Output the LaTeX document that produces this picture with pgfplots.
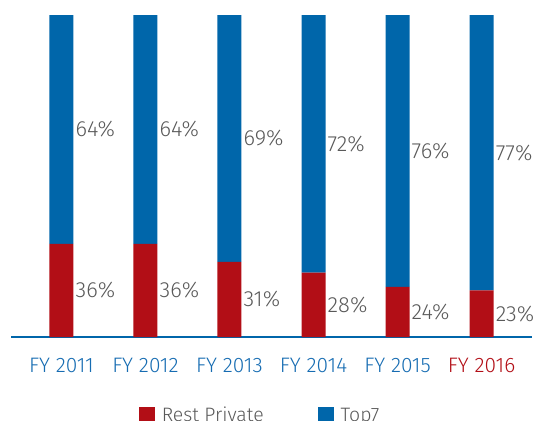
\documentclass[border=0pt]{standalone}
\usepackage{fontspec}
\setmainfont{Fira Sans}[UprightFont=* Light]
\usepackage{pgfplots}
\pgfplotsset{compat=1.18}
\definecolor{barblue}{RGB}{0,102,170}
\definecolor{barred}{RGB}{178,14,22}
\definecolor{lblgray}{RGB}{89,89,89}
\definecolor{tickblue}{RGB}{22,108,178}
\begin{document}
\begin{tikzpicture}
\useasboundingbox (-11bp,-84bp) rectangle (529bp,337bp);
\pgfplotsset{
  base/.style={scale only axis, width=521bp, height=322bp,
    xmin=-0.6, xmax=5.6, ymin=10, ymax=100},
}
\begin{axis}[base, ybar stacked, bar width=24bp,
  axis x line=bottom, axis y line=none,
  x axis line style={barblue, line width=2.5bp, -},
  xtick={0,1,2,3,4,5},
  xticklabels={FY 2011,FY 2012,FY 2013,FY 2014,FY 2015,\textcolor{barred}{FY 2016}},
  major tick length=0pt,
  xticklabel style={font=\fontsize{21}{23}\selectfont, text=tickblue, yshift=-18bp},
  legend columns=2,
  legend style={draw=none, fill=none, at={(axis description cs:0.478,-0.205)}, anchor=north,
    font=\fontsize{19.5}{21}\selectfont, text=lblgray,
    /tikz/every even column/.append style={column sep=52bp}},
]
\addplot[fill=barred, draw=none,
  legend image code/.code={\fill[barred] (0bp,-8bp) rectangle (16bp,8bp); \path (21bp,0bp);}]
  coordinates {(0,36) (1,36) (2,31) (3,28) (4,24) (5,23)};
\addplot[fill=barblue, draw=none,
  legend image code/.code={\fill[barblue] (0bp,-8bp) rectangle (16bp,8bp); \path (21bp,0bp);}]
  coordinates {(0,64) (1,64) (2,69) (3,72) (4,76) (5,77)};
\legend{Rest Private, Top7}
\end{axis}
\begin{axis}[base, hide axis]
\addplot[draw=none, mark=none, nodes near coords={\pgfplotspointmeta\%},
  point meta=explicit symbolic,
  nodes near coords style={anchor=west, xshift=12bp, inner sep=2bp,
    font=\fontsize{22}{24}\selectfont, text=lblgray}]
  table[meta=l] {
x y l
0 23 36
1 23 36
2 20.5 31
3 19 28
4 17 24
5 16.5 23
0 68 64
1 68 64
2 65.5 69
3 64 72
4 62 76
5 61.5 77
};
\end{axis}
\end{tikzpicture}
\end{document}
